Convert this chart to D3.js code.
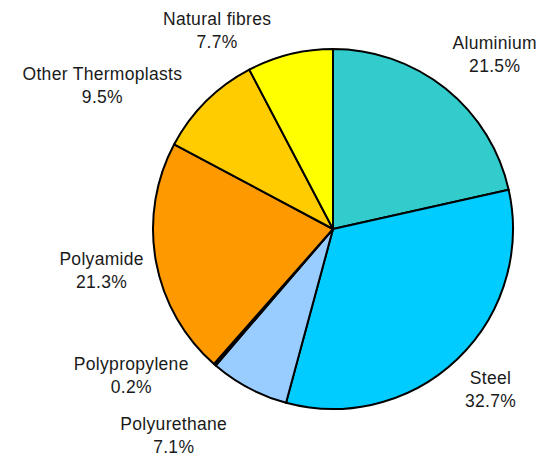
<!DOCTYPE html>
<html>
<head>
<meta charset="utf-8">
<script src="https://cdn.jsdelivr.net/npm/d3@7"></script>
<style>
  body { margin: 0; background: #fff; }
  text { font-family: "Liberation Sans", Arial, sans-serif; fill: #1a1a1a; }
</style>
</head>
<body>
<div id="chart"></div>
<script>
// materials, clockwise from 12 o'clock
const materials = [
    "Aluminium",
    "Steel",
    "Polyurethane",
    "Polypropylene",
    "Polyamide",
    "Other Thermoplasts",
    "Natural fibres"
]

const shares = [21.5, 32.7, 7.1, 0.2, 21.3, 9.5, 7.7]

const colors = [
    '#33CCCC',
    '#00CCFF',
    '#99CCFF',
    '#3366FF',
    '#FF9900',
    '#FFCC00',
    '#FFFF00'
]

// label nudges from the label arc (Excel moved some of them)
const label_nudge = [
    [21, 1],
    [2, -2],
    [-54, 8],
    [-54, -23],
    [-10, 1],
    [-72, 16],
    [-62, 20]
]

generate()

function generate(){
    const chart_width = 541
    const chart_height = 457
    const cx = 333
    const cy = 229
    const radius = 180

    var svg = d3.select('#chart')
        .append('svg')
        .attr('width', chart_width)
        .attr('height', chart_height)

    var data = materials.map(function(m, i){
        return {name: m, value: shares[i], color: colors[i], nudge: label_nudge[i]}
    })

    var pie = d3.pie()
        .value(function(d){ return d.value })
        .sort(null)

    var arc = d3.arc()
        .innerRadius(0)
        .outerRadius(radius)

    var label_arc = d3.arc()
        .innerRadius(radius + 45)
        .outerRadius(radius + 45)

    var g = svg.append('g')
        .attr('transform', 'translate(' + cx + ',' + cy + ')')

    var arcs = pie(data)

    g.selectAll('path')
        .data(arcs)
        .enter()
        .append('path')
        .attr('d', arc)
        .attr('fill', function(d){ return d.data.color })
        .attr('stroke', '#000')
        .attr('stroke-width', 2)
        .attr('stroke-linejoin', 'round')

    var labels = g.selectAll('.label')
        .data(arcs)
        .enter()
        .append('text')
        .attr('class', 'label')
        .attr('text-anchor', 'middle')
        .style('font-size', '17.5px')
        .style('letter-spacing', '0.3px')
        .attr('transform', function(d){
            var c = label_arc.centroid(d)
            return 'translate(' + (c[0] + d.data.nudge[0]) + ',' + (c[1] + d.data.nudge[1]) + ')'
        })

    labels.append('tspan')
        .attr('x', 0)
        .attr('y', -5.5)
        .text(function(d){ return d.data.name })

    labels.append('tspan')
        .attr('x', 0)
        .attr('y', 17.5)
        .text(function(d){ return d.data.value.toFixed(1) + '%' })
}
</script>
</body>
</html>
